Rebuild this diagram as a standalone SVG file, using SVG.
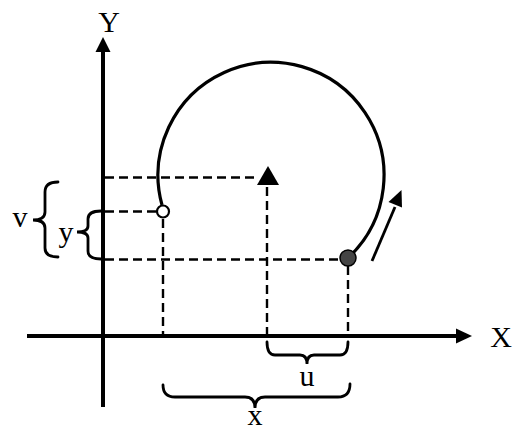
<svg xmlns="http://www.w3.org/2000/svg" width="516" height="432" viewBox="0 0 516 432">
<style>
.lbl{font-family:"Liberation Serif","Times New Roman",serif;font-size:30px;fill:#000}
.dash{stroke:#000;stroke-width:2.4;stroke-dasharray:9 5;fill:none}
.brace{stroke:#000;stroke-width:2.8;fill:none;stroke-linecap:round}
.axis{stroke:#000;stroke-width:4;fill:none}
</style>
<rect width="516" height="432" fill="#fff"/>
<g id="connectors">
<path class="dash" d="M105 177.5H258"/>
<path class="dash" d="M105 211.5H156"/>
<path class="dash" d="M105 259.5H340"/>
<path class="dash" d="M163 219V334"/>
<path class="dash" d="M267 187V334"/>
<path class="dash" d="M348 266V334"/>
</g>
<g id="y-axis">
<path class="axis" d="M103 407V50"/>
<polygon points="103,37 95.5,52 110.5,52" fill="#000"/>
<text class="lbl" x="109" y="32" text-anchor="middle">Y</text>
</g>
<g id="x-axis">
<path class="axis" d="M27 336H457"/>
<polygon points="472,336 456,328.5 456,343.5" fill="#000"/>
<text class="lbl" x="501" y="347" text-anchor="middle">X</text>
</g>
<g id="trajectory">
<path d="M162 205 A113 113 0 1 1 348 258" stroke="#000" stroke-width="3.2" fill="none"/>
</g>
<g id="start-point">
<circle cx="163" cy="211.5" r="6" fill="#fff" stroke="#000" stroke-width="2.2"/>
</g>
<g id="center">
<polygon points="268,166 257,185 279,185" fill="#000"/>
</g>
<g id="end-point">
<circle cx="348" cy="258" r="8" fill="#444" stroke="#000" stroke-width="1.5"/>
</g>
<g id="velocity">
<path d="M372 261L395 207" stroke="#000" stroke-width="2.8"/>
<polygon points="401.5,190 388.5,202 402,207.5" fill="#000"/>
</g>
<g id="brace-v">
<path class="brace" d="M58 182Q45 182 45 192V212Q45 220 33 220Q45 220 45 228V248Q45 257 58 257"/>
<text class="lbl" x="20" y="227" text-anchor="middle">v</text>
</g>
<g id="brace-y">
<path class="brace" d="M101 211Q88 211 88 219V226Q88 232 77 232Q88 232 88 238V251Q88 259 101 259"/>
<text class="lbl" x="66" y="242" text-anchor="middle">y</text>
</g>
<g id="brace-u">
<path class="brace" d="M267 342Q267 355 275 355H300Q307 355 307 364Q307 355 314 355H340Q348 355 348 342"/>
<text class="lbl" x="307" y="386" text-anchor="middle">u</text>
</g>
<g id="brace-x">
<path class="brace" d="M163 385Q163 397 175 397H245Q255 397 255 408Q255 397 265 397H338Q350 397 350 384"/>
<text class="lbl" x="255" y="425" text-anchor="middle">x</text>
</g>
</svg>
